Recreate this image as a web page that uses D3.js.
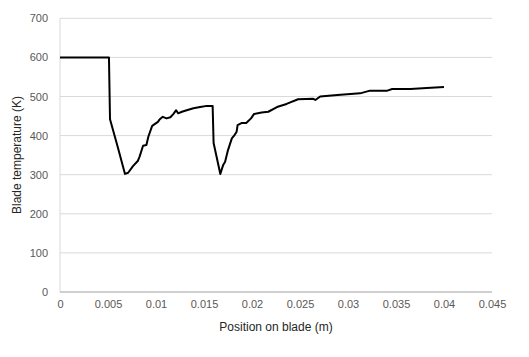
<!DOCTYPE html>
<html><head><meta charset="utf-8">
<script src="https://cdn.jsdelivr.net/npm/d3@7"></script>
<style>body{margin:0;background:#fff;}svg{display:block;}</style>
</head><body>
<svg id="c" width="529" height="357"></svg>
<script>
const positions = [0, 0.0051, 0.00521, 0.0060, 0.00677, 0.0071, 0.0076, 0.0081, 0.0083, 0.00865, 0.0090, 0.0092, 0.0096, 0.0099, 0.0102, 0.0104, 0.0107, 0.0111, 0.0115, 0.0118, 0.0121, 0.0123, 0.0127, 0.0132, 0.0139, 0.0146, 0.0153, 0.0159, 0.0160, 0.0167, 0.0170, 0.0172, 0.0175, 0.0179, 0.0182, 0.0184, 0.0185, 0.0189, 0.0194, 0.0199, 0.0202, 0.0210, 0.0217, 0.0226, 0.0236, 0.0248, 0.0264, 0.0266, 0.0271, 0.0289, 0.03125, 0.0323, 0.0341, 0.0346, 0.0365, 0.0382, 0.0400];
const temperatures = [600, 600, 442, 372, 302, 305, 322, 335, 347, 374, 376, 397, 425, 430, 435, 442, 448, 444, 447, 455, 465, 457, 461, 465, 470, 473, 476, 476, 381, 302, 325, 333, 363, 393, 402, 410, 427, 432, 432, 444, 455, 459, 461, 473, 481, 493, 494, 491, 500, 504, 508, 515, 515, 519, 519, 522, 524];
const xTicks = [0, 0.005, 0.01, 0.015, 0.02, 0.025, 0.03, 0.035, 0.04, 0.045];
const yTicks = [0, 100, 200, 300, 400, 500, 600, 700];
const xTitle = "Position on blade (m)";
const yTitle = "Blade temperature (K)";

const svg = d3.select("#c");
const x = d3.scaleLinear().domain([0, 0.045]).range([60, 492]);
const y = d3.scaleLinear().domain([0, 700]).range([292, 18.3]);
const font = "'Liberation Sans', Arial, sans-serif";

svg.append("g").selectAll("line").data(yTicks.filter(d => d > 0)).join("line")
  .attr("x1", x(0)).attr("x2", x(0.045))
  .attr("y1", d => y(d)).attr("y2", d => y(d))
  .attr("stroke", "#d9d9d9").attr("stroke-width", 1);

svg.append("line").attr("x1", x(0)).attr("x2", x(0)).attr("y1", y(700)).attr("y2", y(0))
  .attr("stroke", "#d9d9d9").attr("stroke-width", 1);
svg.append("line").attr("x1", x(0)).attr("x2", x(0.045)).attr("y1", y(0)).attr("y2", y(0))
  .attr("stroke", "#bfbfbf").attr("stroke-width", 1.3);

const xAxis = d3.axisBottom(x).tickValues(xTicks).tickFormat(d => String(d)).tickSize(0).tickPadding(8);
const gx = svg.append("g").attr("transform", `translate(0,${y(0)})`).call(xAxis);
gx.select(".domain").remove();
gx.selectAll("text").attr("fill", "#595959").style("font-family", font).style("font-size", "11px");

const yAxis = d3.axisLeft(y).tickValues(yTicks).tickFormat(d => String(d)).tickSize(0).tickPadding(12);
const gy = svg.append("g").attr("transform", `translate(${x(0)},0)`).call(yAxis);
gy.select(".domain").remove();
gy.selectAll("text").attr("fill", "#595959").style("font-family", font).style("font-size", "11px");

const line = d3.line().x((d, i) => x(positions[i])).y(d => y(d));
svg.append("path").datum(temperatures).attr("d", line)
  .attr("fill", "none").attr("stroke", "#000").attr("stroke-width", 2).attr("stroke-linejoin", "round");

svg.append("text").attr("x", 276).attr("y", 331).attr("text-anchor", "middle")
  .attr("fill", "#262626").style("font-family", font).style("font-size", "12px").text(xTitle);
svg.append("text").attr("transform", "translate(21,155) rotate(-90)").attr("text-anchor", "middle")
  .attr("fill", "#262626").style("font-family", font).style("font-size", "12px").text(yTitle);
</script>
</body></html>
